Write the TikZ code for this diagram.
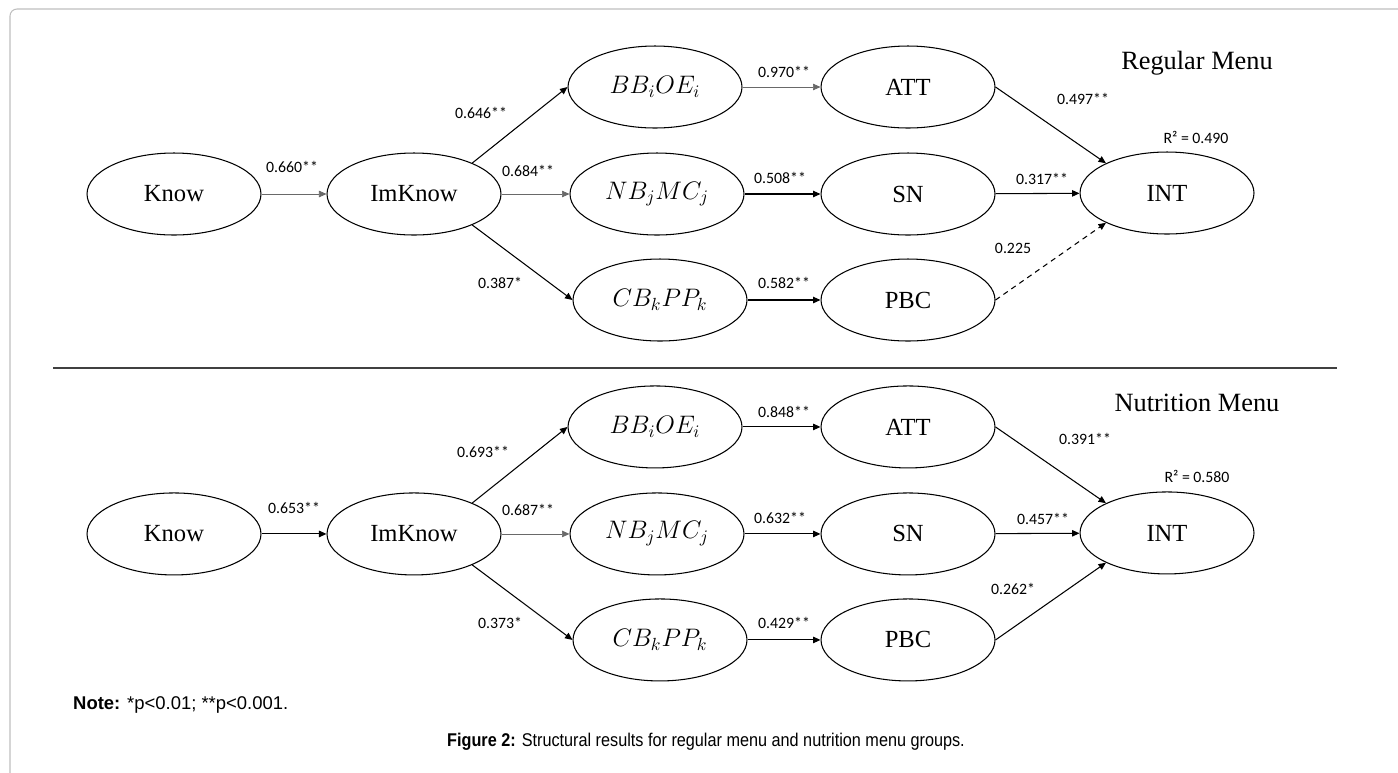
\documentclass[tikz,border=0pt]{standalone}
\usepackage{fontspec}
\setmainfont{Liberation Serif}
\newfontfamily\coeffont{Carlito}
\newfontfamily\notefont{Liberation Sans}
\newfontfamily\capfont[FakeStretch=0.88]{Liberation Sans}
\definecolor{framegray}{RGB}{190,190,190}
\definecolor{thingray}{RGB}{105,105,105}
\usetikzlibrary{shapes.geometric,arrows.meta,positioning}

\begin{document}
\begin{tikzpicture}[x=0.02cm, y=-0.02cm,
    latent/.style={draw, ellipse, line width=0.6pt, minimum width=3.48cm, minimum height=1.64cm, inner sep=0pt, font=\fontsize{14}{16}\selectfont},
    coef/.style={font=\coeffont\fontsize{9}{10}\selectfont},
    menutitle/.style={font=\fontsize{15}{17}\selectfont},
    link/.style={-{Triangle[length=1.5mm,width=1.3mm]}, line width=0.6pt},
    weak/.style={link, thingray, line width=0.4pt},
    nonsig/.style={link, dash pattern=on 3pt off 2.5pt}]
    \useasboundingbox (0,0) rectangle (1398,772);
    \draw[framegray, line width=0.6pt, rounded corners=4pt] (10,800) |- (1420,9);

    % regular menu
    \node[menutitle] (rtitle) at (1197,63) {Regular Menu};
    \node[latent] (rknow) at (174,194) {Know};
    \node[latent] (rimk) at (414,194) {ImKnow};
    \node[latent] (rbb) at (655,87) {$BB_iOE_i$};
    \node[latent] (rnb) at (657,194) {$NB_jMC_j$};
    \node[latent] (rcb) at (660,300) {$CB_kPP_k$};
    \node[latent] (ratt) at (908,87) {ATT};
    \node[latent] (rsn) at (908,194) {SN};
    \node[latent] (rpbc) at (908,300) {PBC};
    \node[latent] (rint) at (1167,193) {INT};
    \draw[weak] (rknow) -- (rimk);
    \draw[link] (rimk.28) -- (rbb.west);
    \draw[weak] (rimk) -- (rnb);
    \draw[link] (rimk.-28) -- (rcb.west);
    \draw[weak] (rbb) -- (ratt);
    \draw[link] (rnb) -- (rsn);
    \draw[link] (rcb) -- (rpbc);
    \draw[link] (ratt.east) -- (rint.154);
    \draw[link] (rsn) -- (rint);
    \draw[nonsig] (rpbc.east) -- (rint.206);
    \node[coef] (rc1) at (292,167) {0.660**};
    \node[coef] (rc2) at (481,113) {0.646**};
    \node[coef] (rc3) at (528,171) {0.684**};
    \node[coef] (rc4) at (500,283) {0.387*};
    \node[coef] (rc5) at (784,72) {0.970**};
    \node[coef] (rc6) at (780,178) {0.508**};
    \node[coef] (rc7) at (784,283) {0.582**};
    \node[coef] (rc8) at (1083,99) {0.497**};
    \node[coef] (rc9) at (1042,179) {0.317**};
    \node[coef] (rc10) at (1013,248) {0.225};
    \node[coef] (rr2) at (1196,137) {R² = 0.490};

    \draw[line width=0.7pt, black!75] (53,368) -- (1337,368);

    % nutrition menu
    \begin{scope}[yshift=-6.8cm]
    \node[menutitle] (ntitle) at (1197,63) {Nutrition Menu};
    \node[latent] (nknow) at (174,194) {Know};
    \node[latent] (nimk) at (414,194) {ImKnow};
    \node[latent] (nbb) at (655,87) {$BB_iOE_i$};
    \node[latent] (nnb) at (657,194) {$NB_jMC_j$};
    \node[latent] (ncb) at (660,300) {$CB_kPP_k$};
    \node[latent] (natt) at (908,87) {ATT};
    \node[latent] (nsn) at (908,194) {SN};
    \node[latent] (npbc) at (908,300) {PBC};
    \node[latent] (nint) at (1167,193) {INT};
    \draw[link] (nknow) -- (nimk);
    \draw[link] (nimk.28) -- (nbb.west);
    \draw[weak] (nimk) -- (nnb);
    \draw[link] (nimk.-28) -- (ncb.west);
    \draw[link] (nbb) -- (natt);
    \draw[link] (nnb) -- (nsn);
    \draw[link] (ncb) -- (npbc);
    \draw[link] (natt.east) -- (nint.154);
    \draw[link] (nsn) -- (nint);
    \draw[link] (npbc.east) -- (nint.206);
    \node[coef] (nc1) at (294,168) {0.653**};
    \node[coef] (nc2) at (483,112) {0.693**};
    \node[coef] (nc3) at (528,170) {0.687**};
    \node[coef] (nc4) at (500,283) {0.373*};
    \node[coef] (nc5) at (784,72) {0.848**};
    \node[coef] (nc6) at (780,178) {0.632**};
    \node[coef] (nc7) at (784,283) {0.429**};
    \node[coef] (nc8) at (1085,99) {0.391**};
    \node[coef] (nc9) at (1043,179) {0.457**};
    \node[coef] (nc10) at (1013,249) {0.262*};
    \node[coef] (nr2) at (1197,137) {R² = 0.580};
    \end{scope}

    \node[anchor=west, font=\notefont\fontsize{10.5}{12}\selectfont] (note) at (67,705) {\textbf{Note:} *p<0.01; **p<0.001.};
    \node[font=\capfont\fontsize{10.5}{12}\selectfont] (caption) at (706,742) {\textbf{Figure 2:} Structural results for regular menu and nutrition menu groups.};
\end{tikzpicture}
\end{document}
